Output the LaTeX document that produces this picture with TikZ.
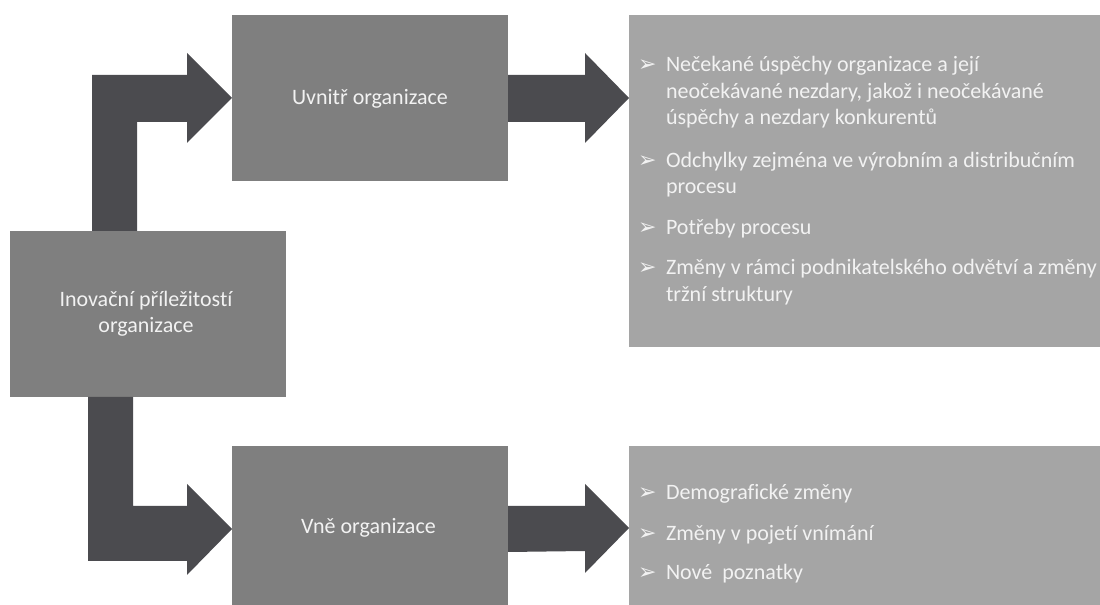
\documentclass[tikz,border=0pt]{standalone}
\usepackage{fontspec}
\setmainfont{Carlito}[Ligatures=NoCommon]
\newfontfamily\dejavu{DejaVu Sans}
\usetikzlibrary{calc}
\definecolor{boxdark}{HTML}{7F7F7F}
\definecolor{boxlight}{HTML}{A5A5A5}
\definecolor{arrowgray}{HTML}{4B4B4F}
\definecolor{txt}{HTML}{F2F2F2}
\newcommand{\bulletglyph}{{\dejavu\fontsize{16.5}{16.5}\selectfont ➢}}
\begin{document}
\begin{tikzpicture}[x=0.75pt,y=-0.75pt,
  box/.style={rectangle, inner sep=0pt, outer sep=0pt, draw=none},
  darkbox/.style={box, fill=boxdark, minimum width=207pt, minimum height=124.5pt},
  lightbox/.style={box, fill=boxlight, minimum width=360.75pt},
  bigarrow/.style={fill=arrowgray},
  txtbase/.style={inner sep=0pt, outer sep=0pt, text=txt, font=\fontsize{16.5}{20}\selectfont},
  ctext/.style={txtbase, anchor=base},
  ltext/.style={txtbase, anchor=base west},
  bulletnode/.style={inner sep=0pt, outer sep=0pt, text=txt, anchor=base west}
]
\useasboundingbox (0,0) rectangle (1100,605);
\clip (0,0) rectangle (1100,605);

% boxes
\node[darkbox] (inov) at (148,314) {};
\node[darkbox] (uvn) at (370,98) {};
\node[darkbox] (vne) at (370,529) {};
\node[lightbox, minimum height=249pt] (right1) at (869.5,181) {};
\node[lightbox, minimum height=124.5pt] (right2) at (869.5,529) {};

% box texts
\node[ctext] (inovt1) at (146,306.7) {Inovační příležitostí};
\node[ctext] (inovt2) at (146,333) {organizace};
\node[ctext] (uvnt) at (370,105) {Uvnitř organizace};
\node[ctext] (vnet) at (368.5,534) {Vně organizace};

% bent arrow up
\fill[bigarrow] ($(inov.north west)+(82,0)$) |- ($(uvn.west)+(-45,-23)$)
  -- ++(0,-22) -- (uvn.west) -- ++(-45,45) -- ++(0,-21)
  -| ($(inov.north west)+(127,0)$) -- cycle;
% bent arrow down
\fill[bigarrow] ($(inov.south west)+(78,0)$) |- ($(vne.west)+(-45,32)$)
  -- ++(0,14) -- (vne.west) -- ++(-45,-45) -- ++(0,22)
  -| ($(inov.south west)+(123,0)$) -- cycle;
% straight arrows
\coordinate (tip1) at (right1.west |- uvn.east);
\fill[bigarrow] ($(uvn.east)+(0,-23)$) -- ++(77,0) -- ++(0,-22) -- (tip1)
  -- ++(-44,45) -- ++(0,-21) -- ($(uvn.east)+(0,24)$) -- cycle;
\coordinate (tip2) at ($(right2.west |- vne.east)+(0,-1)$);
\fill[bigarrow] ($(vne.east)+(0,-23)$) -- ++(77,0) -- ++(0,-22) -- (tip2)
  -- ++(-44,45) -- ++(0,-22) -- ($(vne.east)+(0,23)$) -- cycle;

% top list
\node[bulletnode] (b1) at (638,72) {\bulletglyph};
\node[ltext] (t1a) at (666,72) {Nečekané úspěchy organizace a její};
\node[ltext] (t1b) at (666,98.5) {neočekávané nezdary, jakož i neočekávané};
\node[ltext] (t1c) at (666,125) {úspěchy a nezdary konkurentů};
\node[bulletnode] (b2) at (638,167.5) {\bulletglyph};
\node[ltext] (t2a) at (666,167.5) {Odchylky zejména ve výrobním a distribučním};
\node[ltext] (t2b) at (666,193.5) {procesu};
\node[bulletnode] (b3) at (638,234.5) {\bulletglyph};
\node[ltext] (t3a) at (666,234.5) {Potřeby procesu};
\node[bulletnode] (b4) at (638,275) {\bulletglyph};
\node[ltext] (t4a) at (666,275) {Změny v rámci podnikatelského odvětví a změny};
\node[ltext] (t4b) at (666,302) {tržní struktury};

% bottom list
\node[bulletnode] (b5) at (638,500) {\bulletglyph};
\node[ltext] (t5) at (666,500) {Demografické změny};
\node[bulletnode] (b6) at (638,541) {\bulletglyph};
\node[ltext] (t6) at (666,541) {Změny v pojetí vnímání};
\node[bulletnode] (b7) at (638,580) {\bulletglyph};
\node[ltext] (t7) at (666,580) {Nové\ \ poznatky};
\end{tikzpicture}
\end{document}
